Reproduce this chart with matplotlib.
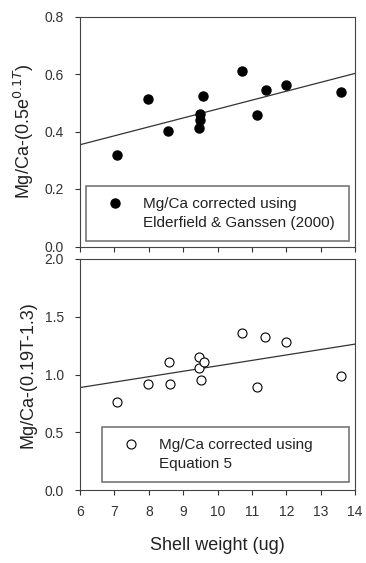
import matplotlib.pyplot as plt
from matplotlib.lines import Line2D
import numpy as np

plt.rcParams['font.family'] = ['Liberation Sans', 'DejaVu Sans']

# shell weight (ug) and corrected Mg/Ca
w_eg = [7.09, 7.99, 8.57, 9.47, 9.49, 9.49, 9.57, 10.70, 11.16, 11.40, 11.98, 13.59]
mg_eg = [0.319, 0.514, 0.403, 0.412, 0.440, 0.460, 0.524, 0.609, 0.458, 0.545, 0.562, 0.537]

w_eq5 = [7.09, 7.99, 8.58, 8.62, 9.47, 9.47, 9.60, 9.51, 10.70, 11.16, 11.38, 11.98, 13.58]
mg_eq5 = [0.766, 0.916, 1.107, 0.916, 1.150, 1.055, 1.107, 0.954, 1.358, 0.896, 1.324, 1.280, 0.991]

# regression lines as drawn in the figure (value at 6, value at 14)
line_eg = [0.354, 0.602]
line_eq5 = [0.887, 1.263]

xt = np.arange(6, 15)

fig = plt.figure(figsize=(3.66, 5.63), dpi=100)
ax1 = fig.add_axes([80 / 366, 1 - 246.5 / 563, 275 / 366, 230 / 563])
ax2 = fig.add_axes([80 / 366, 1 - 490 / 563, 275 / 366, 231 / 563])

for ax in (ax1, ax2):
    ax.set_xlim(6, 14)
    ax.set_xticks(xt)
    ax.tick_params(direction='out', length=3.6, width=0.8, labelsize=10,
                   colors='#333333', labelcolor='#333333')
    ax.tick_params(axis='y', pad=8)
    ax.tick_params(axis='x', pad=7)
    for s in ax.spines.values():
        s.set_linewidth(0.8)
        s.set_color('#444444')
    ax.yaxis.set_label_coords(-0.16, 0.5)


def two_line_legend(ax, handle, lines, box):
    blank = Line2D([], [], ls='none', marker='none')
    leg = ax.legend([handle, blank], lines, loc='lower left',
                    bbox_to_anchor=box, mode='expand', fontsize=11,
                    frameon=True, fancybox=False, edgecolor='#555555',
                    handletextpad=0.6, borderpad=0.7, labelspacing=0.35,
                    handlelength=2.4, borderaxespad=0)
    leg.get_frame().set_linewidth(1.2)
    for t in leg.get_texts():
        t.set_color('#222222')
    return leg


ax1.plot([6, 14], line_eg, color='#333333', lw=0.9)
h1, = ax1.plot(w_eg, mg_eg, 'o', ms=6.5, color='black', ls='none')
ax1.set_ylim(0, 0.8)
ax1.set_yticks([0.0, 0.2, 0.4, 0.6, 0.8])
ax1.set_yticklabels(['0.0', '0.2', '0.4', '0.6', '0.8'])
ax1.set_xticklabels([])
ax1.set_ylabel('Mg/Ca-(0.5e$^{0.1T}$)', fontsize=13, color='#222222')
two_line_legend(ax1, h1, ['Mg/Ca corrected using', 'Elderfield & Ganssen (2000)'],
                (0.022, 0.024, 0.956, 0.25))

ax2.plot([6, 14], line_eq5, color='#333333', lw=0.9)
h2, = ax2.plot(w_eq5, mg_eq5, 'o', ms=6.5, mfc='white', mec='black', mew=0.8,
               ls='none')
ax2.set_ylim(0, 2.0)
ax2.set_yticks([0.0, 0.5, 1.0, 1.5, 2.0])
ax2.set_yticklabels(['0.0', '0.5', '1.0', '1.5', '2.0'])
ax2.set_xlabel('Shell weight (ug)', fontsize=13, labelpad=13, color='#222222')
ax2.set_ylabel('Mg/Ca-(0.19T-1.3)', fontsize=13, color='#222222')
two_line_legend(ax2, h2, ['Mg/Ca corrected using', 'Equation 5'],
                (0.08, 0.035, 0.898, 0.25))

plt.savefig('out.png', dpi=100)
